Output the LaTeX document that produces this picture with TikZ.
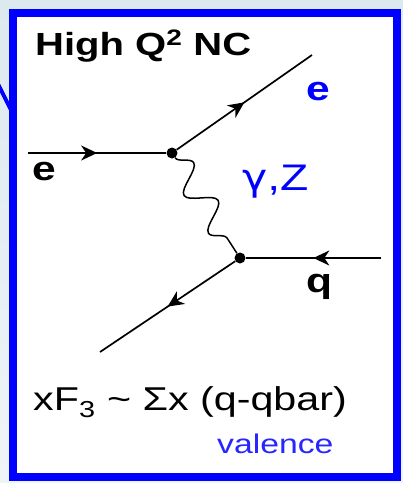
\documentclass[tikz,border=0pt]{standalone}
\usepackage{fontspec}
\setmainfont[FakeStretch=1.25]{Liberation Sans}
\newfontfamily\greekfont[FakeStretch=1.15]{DejaVu Sans}
\usepackage{tikz}
\usetikzlibrary{arrows.meta,decorations.pathmorphing,decorations.markings}

\definecolor{bgtop}{HTML}{DCE9EF}
\definecolor{bgbot}{HTML}{EEF5F8}

\begin{document}
\begin{tikzpicture}[
  x=1pt, y=-1pt,
  frame/.style={draw=blue, fill=white, line width=8pt, inner sep=0pt,
                minimum width=384pt, minimum height=464pt},
  txt/.style={anchor=base west, inner sep=0pt},
  lbl/.style={txt, font=\fontsize{34}{40}\selectfont\bfseries},
  fermion/.style={line width=1.7pt, postaction={decorate},
    decoration={markings, mark=at position 0.5 with
      {\arrow{Stealth[length=16pt,width=15pt,inset=5pt]}}}},
  boson/.style={line width=1.5pt, decorate,
    decoration={snake, segment length=45pt, amplitude=13pt}},
  vtx/.style={circle, fill=black, inner sep=0pt, minimum size=11pt},
]
\useasboundingbox (0,0) rectangle (403,483);
\clip (0,0) rectangle (403,483);
\shade[top color=bgtop, bottom color=bgbot] (0,0) rectangle (403,483);
\draw[blue, line width=4pt] (-3,82) -- (11,110);
\node[frame] (frame) at (204.5,244.5) {};

\node[txt, font=\fontsize{32}{38}\selectfont\bfseries] (title) at (35,55)
  {High Q\textsuperscript{2} NC};

\node[vtx] (v1) at (172,153) {};
\node[vtx] (v2) at (240,258) {};
\coordinate (ein)  at (28,153);
\coordinate (eout) at (312,55);
\coordinate (qin)  at (381,258);
\coordinate (qout) at (100,352);

\draw[fermion] (ein) -- (v1);
\draw[fermion] (v1) -- (eout);
\draw[fermion] (qin) -- (v2);
\draw[fermion] (v2) -- (qout);
\draw[boson] (v1) -- (v2);

\node[lbl] (elin) at (32,180) {e};
\node[lbl, text=blue] (elout) at (306,100) {e};
\node[lbl] (ql) at (306,292) {q};
\node[txt, text=blue, font=\fontsize{37}{44}\selectfont] (gz) at (242,190)
  {{\greekfont γ},Z};

\node[txt, font=\fontsize{33}{39}\selectfont] (xf3) at (33,410)
  {xF\textsubscript{3} \textasciitilde{} Σx (q-qbar)};
\node[txt, text=blue!85!white, font=\fontsize{27}{32}\selectfont] (val) at (217,453)
  {valence};
\end{tikzpicture}
\end{document}
